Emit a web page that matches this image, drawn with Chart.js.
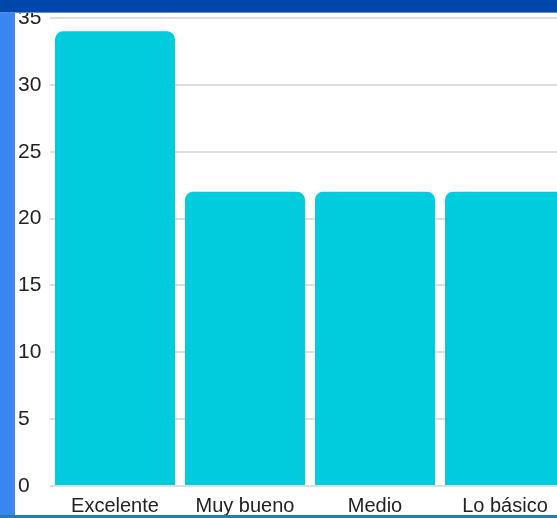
<!doctype html>
<html lang="es">
  <head>
    <meta charset="UTF-8" />
    <title>Valoración</title>
    <script src="https://cdn.jsdelivr.net/npm/chart.js@4.4.1/dist/chart.umd.min.js"></script>
    <style>
      html,
      body {
        margin: 0;
        width: 557px;
        height: 518px;
        overflow: hidden;
        background: #fff;
        font-family: "Liberation Sans", Arial, sans-serif;
      }
      #wrap {
        position: absolute;
        left: 15px;
        top: 0;
        width: 560px;
        height: 527px;
      }
      .strip-left {
        position: absolute;
        left: 0;
        top: 0;
        width: 15px;
        height: 518px;
        background: #3a86f0;
        z-index: 2;
      }
      .strip-top {
        position: absolute;
        left: 0;
        top: 0;
        width: 557px;
        height: 12px;
        background: #0047ab;
        border-bottom: 1px solid #5b8fd6;
        z-index: 3;
      }
      .strip-bottom {
        position: absolute;
        left: 0;
        top: 515px;
        width: 557px;
        height: 3px;
        background: #1f7fb5;
        z-index: 3;
      }
    </style>
  </head>
  <body>
    <div class="strip-top"></div>
    <div class="strip-left"></div>
    <div class="strip-bottom"></div>
    <div id="wrap"><canvas id="chart"></canvas></div>
    <script>
      const categories = ["Excelente", "Muy bueno", "Medio", "Lo básico"];
      const values = [34, 22, 22, 22];
      const yTicks = [0, 5, 10, 15, 20, 25, 30, 35];

      new Chart(document.getElementById("chart"), {
        type: "bar",
        data: {
          labels: categories,
          datasets: [
            {
              data: values,
              backgroundColor: "#00ccdd",
              borderRadius: 8,
              borderSkipped: "bottom",
              categoryPercentage: 1,
              barPercentage: 0.923,
            },
          ],
        },
        options: {
          responsive: true,
          maintainAspectRatio: false,
          animation: false,
          layout: { padding: { top: 18, left: 3, right: 5, bottom: 1 } },
          plugins: { legend: { display: false }, tooltip: { enabled: false } },
          scales: {
            x: {
              grid: { display: false, drawTicks: false },
              border: { display: false },
              ticks: {
                color: "#222",
                padding: 8,
                font: { size: 20, family: "Liberation Sans" },
              },
            },
            y: {
              min: 0,
              max: 35,
              afterFit: (scale) => {
                scale.width = 32;
              },
              afterBuildTicks: (scale) => {
                scale.ticks = yTicks.map((v) => ({ value: v }));
              },
              grid: { color: "#dddddd", lineWidth: 2, drawTicks: false },
              border: { display: false },
              ticks: {
                color: "#222",
                crossAlign: "far",
                padding: 0,
                font: { size: 21, family: "Liberation Sans" },
              },
            },
          },
        },
      });
    </script>
  </body>
</html>
